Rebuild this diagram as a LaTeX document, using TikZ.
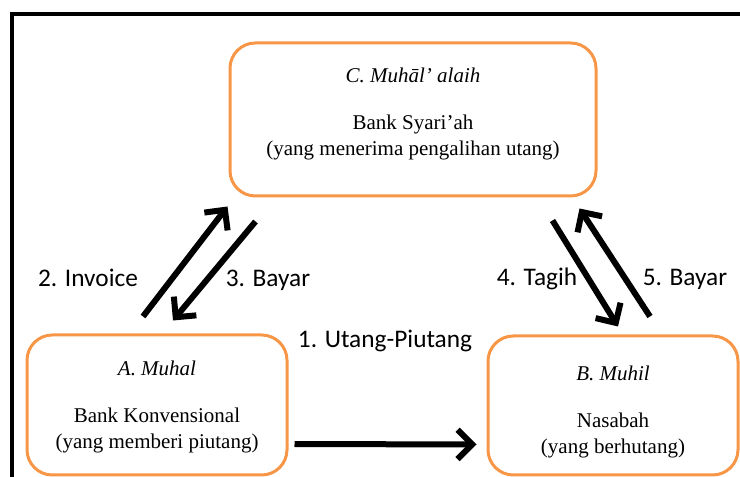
\documentclass[tikz,border=0pt]{standalone}
\usepackage{fontspec}
\setmainfont{Liberation Serif}
\newfontfamily\lblfont{Carlito}
\usetikzlibrary{arrows.meta}

\definecolor{boxorange}{RGB}{247,150,70}

\begin{document}
\begin{tikzpicture}[x=0.75pt, y=-0.75pt,
    party/.style={draw=boxorange, line width=2.25pt, rounded corners=19pt, inner sep=0pt},
    ptext/.style={align=center, font=\fontsize{15.75}{19.5}\selectfont, inner sep=0pt},
    arr/.style={line width=4.5pt, -{Straight Barb[length=11pt, width=22pt]}},
    lbl/.style={font=\lblfont\fontsize{19}{22}\selectfont, inner sep=0pt, anchor=base}]

  \useasboundingbox (0,0) rectangle (740,477);
  \clip (0,0) rectangle (740,477);
  \draw[line width=3pt] (12,14) rectangle (780,520);

  \node[party, minimum width=274.5pt, minimum height=114.75pt] (C) at (413,119.5) {};
  \node[party, minimum width=195pt, minimum height=105pt] (A) at (157,405) {};
  \node[party, minimum width=187.5pt, minimum height=104.25pt] (B) at (613,405.5) {};

  \node[ptext] (Ct) at ([yshift=4.5pt]C.center)
    {\textit{C. Muhāl’ alaih}\\[15.75pt] Bank Syari’ah\\(yang menerima pengalihan utang)};
  \node[ptext] (At) at ([yshift=-1.5pt]A.center)
    {\textit{A. Muhal}\\[15.75pt] Bank Konvensional\\(yang memberi piutang)};
  \node[ptext] (Bt) at ([yshift=-4.5pt]B.center)
    {\textit{B. Muhil}\\[15.75pt] Nasabah\\(yang berhutang)};

  \draw[arr] ([shift={(6,39)}]A.east) -- ([shift={(-10,39)}]B.west);
  \draw[arr] ([shift={(-14,-17)}]A.north) -- ([shift={(-1,9)}]C.south west);
  \draw[arr] ([shift={(27,24)}]C.south west) -- ([shift={(16,-13)}]A.north);
  \draw[arr] ([shift={(-45,23)}]C.south east) -- ([shift={(5,-8)}]B.north);
  \draw[arr] ([shift={(37,-18)}]B.north) -- ([shift={(-18,11)}]C.south east);

  \node[lbl] (l1) at (385,348) {1. Utang-Piutang};
  \node[lbl] (l2) at (88,287) {2. Invoice};
  \node[lbl] (l3) at (268,287) {3. Bayar};
  \node[lbl] (l4) at (537,286) {4. Tagih};
  \node[lbl] (l5) at (685,286) {5. Bayar};

\end{tikzpicture}
\end{document}
